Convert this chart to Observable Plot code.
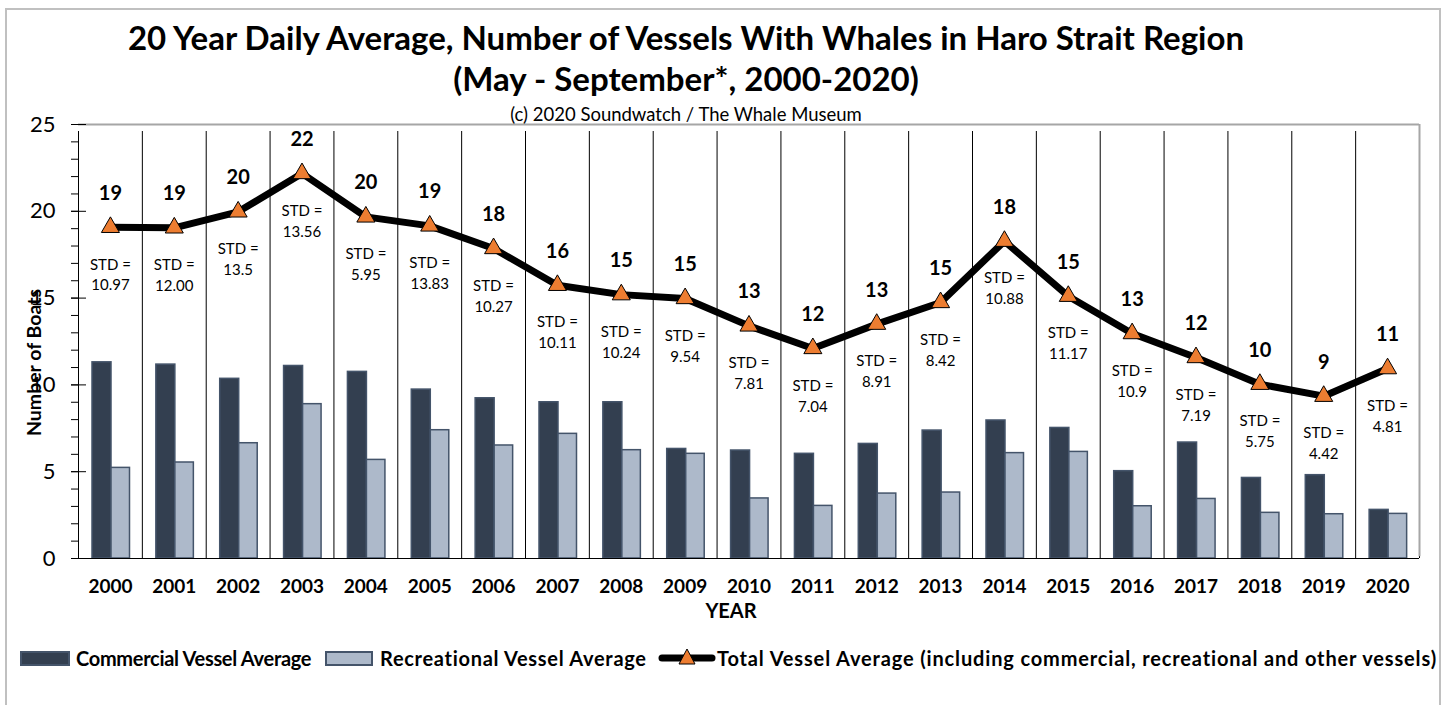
<!DOCTYPE html>
<html>
<head>
<meta charset="utf-8">
<script src="https://cdn.jsdelivr.net/npm/d3@7"></script>
<script src="https://cdn.jsdelivr.net/npm/@observablehq/plot@0.6"></script>
<style>
  body { margin: 0; background: #fff; font-family: Lato, "Open Sans", sans-serif; }
  #wrap { position: relative; width: 1454px; height: 705px; overflow: hidden; background: #fff; }
  #border { position: absolute; left: 5px; top: 8px; width: 1436px; height: 720px; border: 2px solid #c0c0c0; box-sizing: border-box; }
  .t { position: absolute; left: 0; width: 1372px; text-align: center; color: #000; white-space: nowrap; }
  #t1 { top: 16px; font-size: 33px; font-weight: 700; line-height: 42px; }
  #t2 { top: 57px; font-size: 33px; font-weight: 700; line-height: 42px; }
  #t3 { top: 103px; font-size: 18.5px; line-height: 22px; }
  #chart { position: absolute; left: 0; top: 104px; }
  .lg { position: absolute; top: 646px; height: 24px; display: flex; align-items: center; font-size: 20px; font-weight: 700; white-space: nowrap; color: #000; }
  .sw { position: absolute; top: 651px; height: 15px; box-sizing: border-box; }
</style>
</head>
<body>
<div id="wrap">
  <div id="border"></div>
  <div class="t" id="t1">20 Year Daily Average, Number of Vessels With Whales in Haro Strait Region</div>
  <div class="t" id="t2">(May - September*, 2000-2020)</div>
  <div id="chart"></div>
  <div class="t" id="t3">(c) 2020 Soundwatch / The Whale Museum</div>
  <span class="sw" style="left:20px;width:50px;background:#333f50;border:2px solid #44546a"></span>
  <div class="lg" style="left:76px;letter-spacing:-0.3px">Commercial Vessel Average</div>
  <span class="sw" style="left:325px;width:48px;background:#adb9ca;border:2px solid #44546a"></span>
  <div class="lg" style="left:380px;letter-spacing:0.7px">Recreational Vessel Average</div>
  <svg style="position:absolute;left:658px;top:648px" width="58" height="20"><line x1="4" y1="10" x2="54" y2="10" stroke="#000" stroke-width="7" stroke-linecap="round"/><path d="M29,1 L37,16 L21,16 Z" fill="#ed7d31" stroke="#000" stroke-width="1"/></svg>
  <div class="lg" style="left:717px;letter-spacing:0.85px">Total Vessel Average (including commercial, recreational and other vessels)</div>
</div>
<script>
const years = ["2000","2001","2002","2003","2004","2005","2006","2007","2008","2009","2010","2011","2012","2013","2014","2015","2016","2017","2018","2019","2020"];
const commercial = [11.3, 11.17, 10.35, 11.09, 10.75, 9.73, 9.23, 9.0, 9.0, 6.31, 6.22, 6.03, 6.6, 7.37, 7.95, 7.52, 5.03, 6.68, 4.64, 4.8, 2.8];
const recreational = [5.22, 5.53, 6.64, 8.89, 5.68, 7.39, 6.51, 7.18, 6.24, 6.03, 3.46, 3.03, 3.74, 3.8, 6.07, 6.14, 3.01, 3.43, 2.63, 2.55, 2.57];
const total = [19.08, 19.05, 19.97, 22.18, 19.68, 19.16, 17.86, 15.74, 15.2, 14.98, 13.4, 12.1, 13.5, 14.75, 18.28, 15.11, 12.96, 11.58, 10.04, 9.35, 10.94];
const totalLabels = ["19","19","20","22","20","19","18","16","15","15","13","12","13","15","18","15","13","12","10","9","11"];
const stdLabels = ["10.97","12.00","13.5","13.56","5.95","13.83","10.27","10.11","10.24","9.54","7.81","7.04","8.91","8.42","10.88","11.17","10.9","7.19","5.75","4.42","4.81"];
const yTicks = [0, 5, 10, 15, 20, 25];
const yMinorTicks = [0,1,2,3,4,5,6,7,8,9,10,11,12,13,14,15,16,17,18,19,20,21,22,23,24,25];

const rows = years.map((year, i) => ({
  year, commercial: commercial[i], recreational: recreational[i], total: total[i],
  totalLabel: totalLabels[i], std: "STD =\n" + stdLabels[i]
}));

const W = 1454, H = 536, mL = 78, mR = 35, mT = 20, mB = 82;
const bw = (W - mL - mR) / years.length;

const chart = Plot.plot({
  width: W, height: H,
  marginLeft: mL, marginRight: mR, marginTop: mT, marginBottom: mB,
  style: { fontFamily: "Lato, 'Open Sans', sans-serif", color: "#000", background: "transparent" },
  x: { type: "band", domain: years, padding: 0, round: false, axis: null },
  y: { domain: [0, 25], axis: null },
  marks: [
    Plot.ruleX(years, { x: d => d, dx: -bw / 2, y1: 0, y2: 25, stroke: "#000", strokeWidth: 1, insetBottom: -7 }),
    Plot.ruleX(years.slice(-1), { x: d => d, dx: bw / 2, y1: 0, y2: 25, stroke: "#000", strokeWidth: 1, insetBottom: -7 }),
    Plot.ruleX(years.slice(-1), { x: d => d, dx: bw / 2, y1: 0.1, y2: 25, stroke: "#a6a6a6", strokeWidth: 2 }),
    Plot.ruleY([25], { stroke: "#a6a6a6", strokeWidth: 2 }),
    Plot.barY(rows, { x: "year", y: "commercial", fill: "#333f50", stroke: "#44546a", strokeWidth: 1.5, insetLeft: 14, insetRight: bw - 33 }),
    Plot.barY(rows, { x: "year", y: "recreational", fill: "#adb9ca", stroke: "#44546a", strokeWidth: 1.5, insetLeft: 33, insetRight: bw - 51.5 }),
    Plot.ruleY([0], { stroke: "#000", strokeWidth: 1.2 }),
    Plot.axisY({ ticks: yMinorTicks, tickSize: 7, text: null, stroke: "#000" }),
    Plot.axisY({ ticks: yTicks, tickSize: -8, text: null, stroke: "#000" }),
    Plot.axisY({ ticks: yTicks, tickSize: 7, tickPadding: 16, fontSize: 22, fill: "#000", label: null }),
    Plot.axisX({ tickSize: 0, tickPadding: 21, fontSize: 19, fontWeight: 700, fill: "#000", label: null }),
    Plot.text(["YEAR"], { frameAnchor: "bottom", dy: 59, dx: -18, fontSize: 20, fontWeight: 700, fill: "#000" }),
    Plot.text(["Number of Boats"], { frameAnchor: "left", textAnchor: "middle", rotate: -90, dx: -44, dy: 21, fontSize: 19.5, fontWeight: 700, fill: "#000" }),
    Plot.line(rows, { x: "year", y: "total", stroke: "#000", strokeWidth: 7, strokeLinejoin: "round" }),
    Plot.dot(rows, { x: "year", y: "total", symbol: "triangle", r: 6.7, fill: "#ed7d31", stroke: "#000", strokeWidth: 1 }),
    Plot.text(rows, { x: "year", y: "total", text: "totalLabel", dy: -34, fontSize: 20, fontWeight: 700, fill: "#000" }),
    Plot.text(rows, { x: "year", y: "total", text: "std", dy: 46, fontSize: 15, lineHeight: 1.4, lineAnchor: "middle", fill: "#000" })
  ]
});
document.getElementById("chart").appendChild(chart);
</script>
</body>
</html>
